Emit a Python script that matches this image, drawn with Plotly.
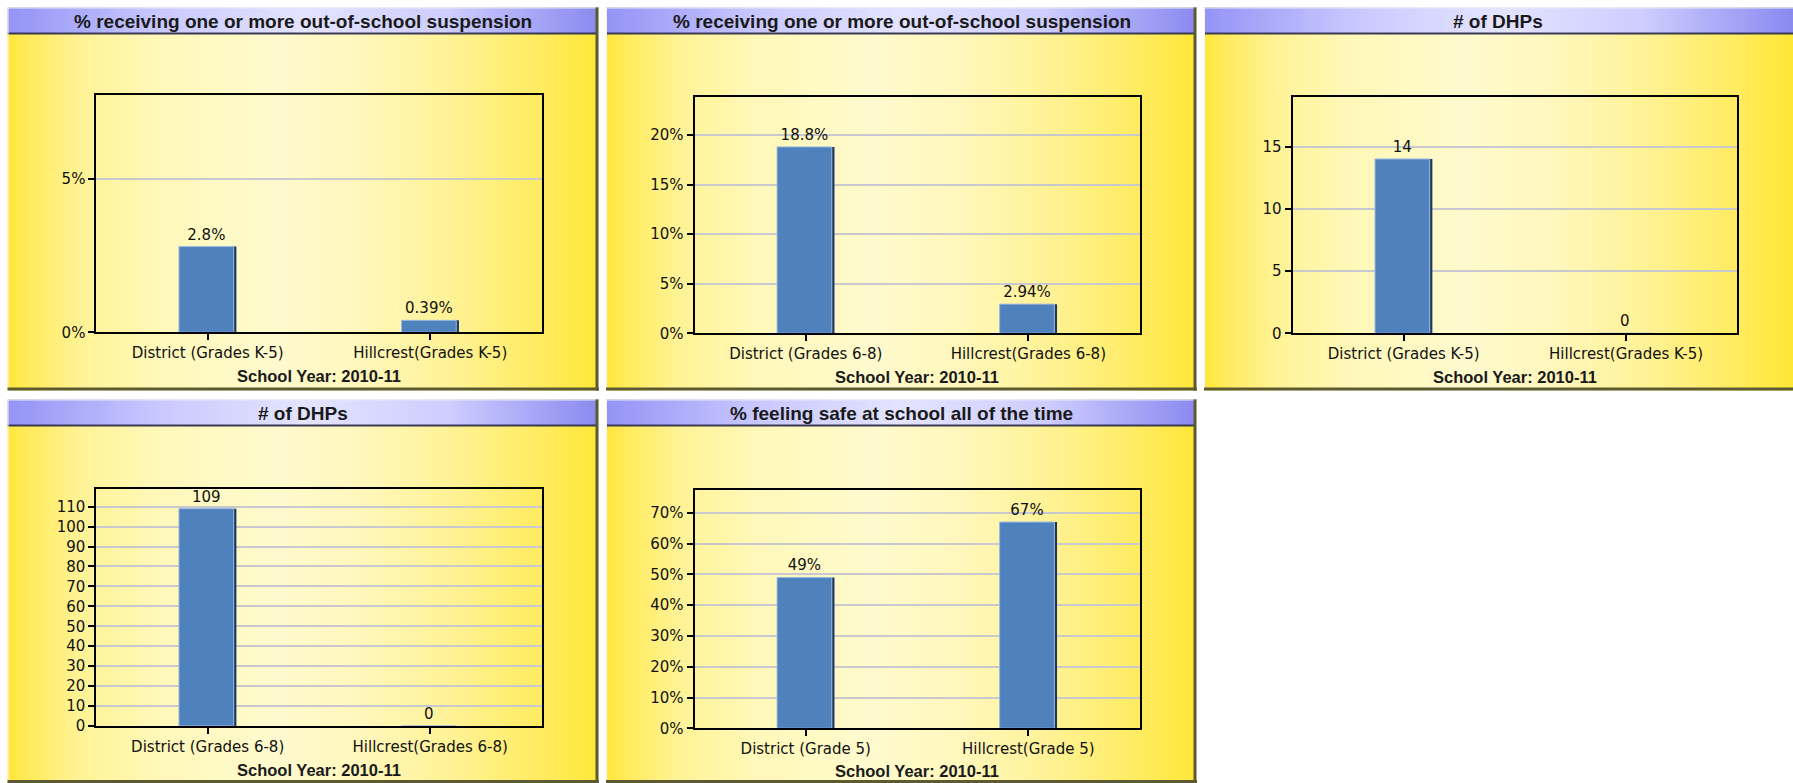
import base64
import struct
import zlib
import plotly.graph_objects as go

W, H = 1793, 783

# ---------------- data ----------------
panel_titles = [
    "% receiving one or more out-of-school suspension",
    "% receiving one or more out-of-school suspension",
    "# of DHPs",
    "# of DHPs",
    "% feeling safe at school all of the time",
]
categories_k5 = ["District (Grades K-5)", "Hillcrest(Grades K-5)"]
categories_68 = ["District (Grades 6-8)", "Hillcrest(Grades 6-8)"]
categories_g5 = ["District (Grade 5)", "Hillcrest(Grade 5)"]

suspension_k5 = [2.8, 0.39]
suspension_68 = [18.8, 2.94]
dhp_k5 = [14, 0]
dhp_68 = [109, 0]
safe_g5 = [49, 67]

x_title = "School Year: 2010-11"

charts = [
    dict(cats=categories_k5, vals=suspension_k5, suffix="%", ymax=7.76, dtick=5),
    dict(cats=categories_68, vals=suspension_68, suffix="%", ymax=23.86, dtick=5),
    dict(cats=categories_k5, vals=dhp_k5, suffix="", ymax=19.0, dtick=5),
    dict(cats=categories_68, vals=dhp_68, suffix="", ymax=119.0, dtick=10),
    dict(cats=categories_g5, vals=safe_g5, suffix="%", ymax=77.4, dtick=10),
]

# ---------------- layout geometry (pixels) ----------------
plot_boxes = [  # x0, x1, y0(top), y1(bottom)
    (96.4, 541.5, 94.7, 332.3),
    (694.5, 1139.6, 96.7, 333.3),
    (1292.5, 1737.2, 96.7, 333.3),
    (96.4, 541.5, 488.7, 726.0),
    (694.5, 1139.6, 490.0, 728.3),
]
panel_boxes = [  # x0, x1, y0, y1
    (7.5, 599.0, 7.5, 390.5),
    (606.0, 1197.0, 7.5, 390.5),
    (1204.0, 1793.0, 7.5, 390.5),
    (7.5, 599.0, 399.5, 783.0),
    (606.0, 1197.0, 399.5, 783.0),
]
xtitle_y = [375.5, 376.5, 376.5, 769.5, 770.5]
TITLE_BAR_H = 26
BAR_W = 0.258
SHADOW_W = 0.012


def px(x):
    return x / W


def py(y):
    return 1 - y / H


def interp_stops(stops, n):
    out = []
    for i in range(n):
        t = i / (n - 1)
        for j in range(len(stops) - 1):
            t0, c0 = stops[j]
            t1, c1 = stops[j + 1]
            if t0 <= t <= t1:
                f = 0 if t1 == t0 else (t - t0) / (t1 - t0)
                out.append(tuple(int(round(c0[k] + (c1[k] - c0[k]) * f)) for k in range(3)))
                break
    return out


def png_uri(pixels, rows=2):
    w = len(pixels)
    raw = b""
    for _ in range(rows):
        raw += b"\x00" + bytes(c for p in pixels for c in p)

    def chunk(t, d):
        return struct.pack(">I", len(d)) + t + d + struct.pack(">I", zlib.crc32(t + d) & 0xFFFFFFFF)

    png = (b"\x89PNG\r\n\x1a\n"
           + chunk(b"IHDR", struct.pack(">IIBBBBB", w, rows, 8, 2, 0, 0, 0))
           + chunk(b"IDAT", zlib.compress(raw))
           + chunk(b"IEND", b""))
    return "data:image/png;base64," + base64.b64encode(png).decode()


yellow_stops = [
    (0.0, (255, 230, 60)), (0.03, (255, 235, 90)), (0.12, (255, 243, 150)),
    (0.25, (255, 248, 185)), (0.45, (255, 250, 206)), (0.6, (255, 247, 188)),
    (0.75, (255, 242, 150)), (0.9, (255, 236, 98)), (1.0, (255, 231, 56)),
]
blue_stops = [
    (0.0, (148, 148, 246)), (0.25, (200, 200, 255)), (0.5, (228, 228, 255)),
    (0.75, (205, 205, 255)), (1.0, (138, 138, 240)),
]
yellow_uri = png_uri(interp_stops(yellow_stops, 200))
blue_uri = png_uri(interp_stops(blue_stops, 200))

fig = go.Figure()
images, shapes, annotations = [], [], []

for i, (ch, pb, bb) in enumerate(zip(charts, plot_boxes, panel_boxes)):
    n = "" if i == 0 else str(i + 1)
    xa, ya = "x" + n, "y" + n
    x0, x1, y0, y1 = pb
    X0, X1, Y0, Y1 = bb

    # dark bevel (shadow) behind each bar
    fig.add_trace(go.Bar(
        x=ch["cats"], y=ch["vals"], xaxis=xa, yaxis=ya, width=BAR_W, offset=-BAR_W / 2,
        marker=dict(color="#1E3558", line=dict(width=0)),
        showlegend=False, hoverinfo="skip",
    ))
    # bar face with value label
    fig.add_trace(go.Bar(
        x=ch["cats"], y=ch["vals"], xaxis=xa, yaxis=ya, width=BAR_W - SHADOW_W,
        offset=-BAR_W / 2,
        marker=dict(color="#4F81BD", line=dict(color="#9EBDE6", width=1)),
        texttemplate="%{y}", textposition="outside",
        textfont=dict(family="DejaVu Sans", size=15, color="#111111"),
        cliponaxis=False, showlegend=False, hoverinfo="x+y",
    ))
    axis_common = dict(showline=True, linecolor="#000000", linewidth=2, mirror=True,
                       ticks="outside", ticklen=6, tickwidth=1.5, tickcolor="#000000",
                       automargin=False,
                       tickfont=dict(family="DejaVu Sans", size=15, color="#111111"))
    fig.update_layout(**{
        ("xaxis" + n): dict(domain=[px(x0), px(x1)], anchor=ya, type="category",
                            range=[-0.5, 1.5], showgrid=False, fixedrange=True, **axis_common),
        ("yaxis" + n): dict(domain=[py(y1), py(y0)], anchor=xa, range=[0, ch["ymax"]],
                            dtick=ch["dtick"], tick0=0, ticksuffix=ch["suffix"],
                            showgrid=True, gridcolor="#C8C9CE", gridwidth=1.5,
                            zeroline=False, fixedrange=True, **axis_common),
    })

    # panel background gradient
    images.append(dict(source=yellow_uri, xref="paper", yref="paper",
                       x=px(X0), y=py(Y0), sizex=(X1 - X0) / W, sizey=(Y1 - Y0) / H,
                       xanchor="left", yanchor="top", sizing="stretch", layer="below"))
    # title bar gradient
    images.append(dict(source=blue_uri, xref="paper", yref="paper",
                       x=px(X0), y=py(Y0), sizex=(X1 - X0) / W, sizey=TITLE_BAR_H / H,
                       xanchor="left", yanchor="top", sizing="stretch", layer="below"))
    # title bar borders
    shapes.append(dict(type="line", xref="paper", yref="paper", x0=px(X0), x1=px(X1),
                       y0=py(Y0 + 0.5), y1=py(Y0 + 0.5), line=dict(color="#E8E8FF", width=1)))
    shapes.append(dict(type="line", xref="paper", yref="paper", x0=px(X0), x1=px(X1),
                       y0=py(Y0 + TITLE_BAR_H), y1=py(Y0 + TITLE_BAR_H),
                       line=dict(color="#3A3A55", width=2)))
    # panel edges: light left, dark right / bottom
    shapes.append(dict(type="line", xref="paper", yref="paper", x0=px(X0 + 0.5), x1=px(X0 + 0.5),
                       y0=py(Y0), y1=py(Y1), line=dict(color="#F4F4FF", width=1)))
    if i != 2:
        shapes.append(dict(type="line", xref="paper", yref="paper", x0=px(X1 - 2), x1=px(X1 - 2),
                           y0=py(Y0), y1=py(Y1), line=dict(color="#5C5A30", width=3)))
        shapes.append(dict(type="line", xref="paper", yref="paper", x0=px(X1 - 0.5), x1=px(X1 - 0.5),
                           y0=py(Y0), y1=py(Y1), line=dict(color="#A8A890", width=1)))
    shapes.append(dict(type="line", xref="paper", yref="paper", x0=px(X0), x1=px(X1),
                       y0=py(Y1 - 1.5), y1=py(Y1 - 1.5), line=dict(color="#5C5A30", width=3)))

    # panel title
    annotations.append(dict(text="<b>" + panel_titles[i] + "</b>", xref="paper", yref="paper",
                            x=px((X0 + X1) / 2 if i != 2 else (X0 + 1797) / 2 - 3),
                            y=py(Y0 + 13.5), xanchor="center", yanchor="middle",
                            showarrow=False,
                            font=dict(family="Liberation Sans", size=19, color="#1A1A1A")))
    # x-axis title
    annotations.append(dict(text="<b>" + x_title + "</b>", xref="paper", yref="paper",
                            x=px((x0 + x1) / 2), y=py(xtitle_y[i]),
                            xanchor="center", yanchor="middle", showarrow=False,
                            font=dict(family="Liberation Sans", size=16.5, color="#1A1A1A")))

fig.update_layout(
    width=W, height=H, margin=dict(l=0, r=0, t=0, b=0, pad=0, autoexpand=False),
    paper_bgcolor="#FFFFFF", plot_bgcolor="rgba(0,0,0,0)",
    images=images, shapes=shapes, annotations=annotations,
    showlegend=False, barmode="overlay",
)

fig.write_html("out.html")
